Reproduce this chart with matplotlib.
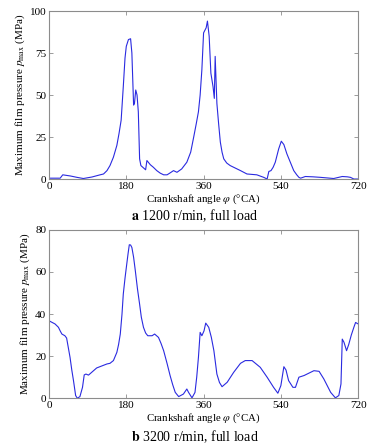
import matplotlib
matplotlib.use("Agg")
import matplotlib.pyplot as plt

plt.rcParams['font.family'] = ['Liberation Serif', 'DejaVu Serif']
plt.rcParams['mathtext.fontset'] = 'stix'

# (a) 1200 r/min, full load
angle_a = [0, 26, 32, 50, 65, 80, 100, 119, 127, 135, 142, 150, 158, 163, 168, 173, 177, 180, 185, 190,
           193, 197, 199, 202, 205, 208, 211, 214, 225, 228, 236, 243, 251, 259, 267, 275, 283, 290, 298,
           309, 321, 330, 337, 343, 348, 352, 356, 360, 366, 369, 373, 377, 382, 385, 387, 391, 395, 399,
           403, 407, 414, 422, 434, 446, 461, 484, 500, 508, 512, 517, 522, 527, 531, 535, 541, 547, 554,
           562, 570, 577, 582, 586, 597, 615, 632, 650, 663, 683, 695, 702, 710, 720]
p_a = [0.5, 0.5, 2.5, 1.8, 1.0, 0.3, 1.2, 2.5, 3.0, 5, 8, 13, 20, 27, 35, 55, 72, 79, 83, 83.5,
       75, 44, 45, 53, 50, 40, 12, 8, 5.5, 11, 8.5, 7, 5, 3.5, 2.5, 2.5, 3.8, 5, 4,
       6, 10, 16, 25, 33, 40, 50, 65, 87, 90, 94, 85, 63, 55, 48, 73, 45, 33, 22,
       16, 12, 9.5, 8, 6.5, 5, 3, 2.5, 1, 0, 4.5, 5, 7, 10, 14, 18, 22.5, 20.5, 15,
       10, 5, 2.5, 1, 0.5, 1.5, 1.3, 1, 0.6, 0.3, 1.5, 1.3, 1, 0, 0]

# (b) 3200 r/min, full load
angle_b = [0, 14, 22, 26, 30, 37, 41, 45, 49, 53, 57, 62, 66, 72, 78, 82, 86, 92, 111, 135, 142, 150, 158,
           162, 166, 170, 173, 177, 180, 184, 187, 190, 193, 197, 201, 206, 211, 215, 220, 225, 230, 240,
           246, 255, 261, 267, 275, 282, 288, 294, 302, 313, 321, 325, 333, 340, 344, 348, 352, 356, 361,
           365, 372, 378, 384, 391, 397, 403, 415, 430, 446, 457, 473, 492, 508, 523, 533, 540, 547, 552,
           558, 568, 574, 582, 594, 617, 629, 640, 648, 656, 667, 675, 680, 683, 687, 693, 698, 704, 710,
           714, 720]
p_b = [36.8, 35.3, 33.7, 32, 30.5, 29.7, 28.6, 24, 19.4, 13.5, 8.4, 1.3, 0, 0.8, 5.2, 11.1, 11.5, 11,
       14.4, 16.3, 16.6, 17.9, 21.8, 25.5, 30.5, 40, 49.5, 57, 62, 68.5, 72.9, 72.8, 71.6, 67, 60.6,
       52, 44.7, 38.5, 33.7, 31, 29.7, 29.7, 30.5, 28.9, 26, 22.6, 16.5, 10.8, 6.5, 2.8, 0.8, 2, 4.4,
       2.8, 0.2, 2.8, 10, 19.4, 31.3, 29.7, 32, 35.7, 33.7, 29, 22.6, 11.5, 7.5, 5.5, 7.6, 12.3, 16.6,
       17.9, 17.9, 14.7, 10, 5.2, 2.4, 6, 15, 13.4, 8.4, 5.2, 5.2, 10, 10.8, 13.1, 12.8, 9.2, 6, 2.8,
       0.2, 1.3, 6.8, 28.1, 26.6, 22.6, 25.5, 30, 33.7, 36, 35.3]

xticks = [0, 180, 360, 540, 720]
yticks_a = [0, 25, 50, 75, 100]
yticks_b = [0, 20, 40, 60, 80]

ylabel = r"Maximum film pressure $p_{\mathrm{max}}$ (MPa)"
xlabel = r"Crankshaft angle $\varphi$ (°CA)"

fig = plt.figure(figsize=(3.77, 4.48), dpi=100)
ax1 = fig.add_axes([0.130, 0.6004, 0.820, 0.375])
ax2 = fig.add_axes([0.130, 0.111, 0.820, 0.376])

spine_col = '#8c8c8c'
for ax, x, y, yt in [(ax1, angle_a, p_a, yticks_a), (ax2, angle_b, p_b, yticks_b)]:
    ax.plot(x, y, color='#2a2ae0', lw=0.8)
    ax.set_xlim(0, 720)
    ax.set_ylim(yt[0], yt[-1])
    ax.set_xticks(xticks)
    ax.set_yticks(yt)
    ax.tick_params(direction='in', top=True, right=True, length=3, width=0.6,
                   color=spine_col, labelsize=8, pad=2)
    for s in ax.spines.values():
        s.set_color(spine_col)
        s.set_linewidth(0.8)
    ax.set_ylabel(ylabel, fontsize=8, labelpad=2)
    ax.set_xlabel(xlabel, fontsize=7.8, labelpad=1)

fig.text(195 / 377, 1 - 216 / 448, r"$\mathbf{a}$ 1200 r/min, full load", ha='center', va='center', fontsize=10)
fig.text(195 / 377, 1 - 437 / 448, r"$\mathbf{b}$ 3200 r/min, full load", ha='center', va='center', fontsize=10)

fig.savefig("out.png", dpi=100)
